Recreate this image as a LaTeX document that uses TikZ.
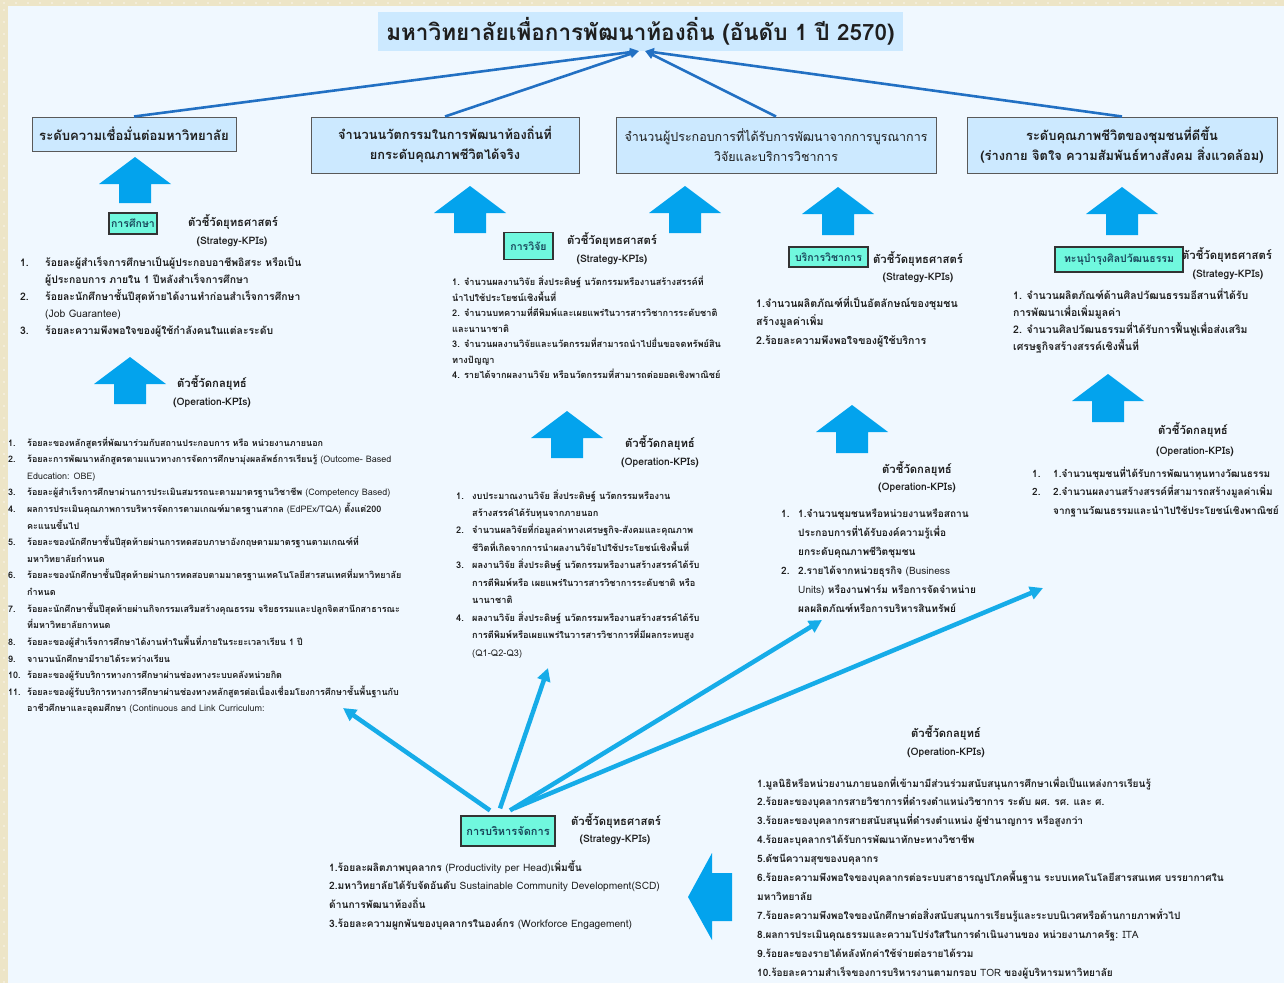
\documentclass[tikz,border=0pt]{standalone}
\usepackage{fontspec}
\setmainfont[Script=Thai]{Loma}
\usetikzlibrary{arrows.meta}
\definecolor{frame}{RGB}{237,229,199}
\definecolor{bgin}{RGB}{240,248,255}
\definecolor{tbfill}{RGB}{204,233,255}
\definecolor{gfill}{RGB}{112,248,222}
\definecolor{gtext}{RGB}{25,70,90}
\definecolor{blk}{RGB}{3,163,237}
\definecolor{dk}{RGB}{34,112,195}
\definecolor{cy}{RGB}{22,172,232}
\definecolor{txt}{RGB}{30,30,30}
\newcommand\fs[1]{\fontsize{#1}{#1}\selectfont}
\newcommand\nb[2]{\makebox[#1pt][l]{#2}}
\newcommand\ind[1]{\hspace*{#1pt}}
\newcommand\lat[1]{{\mdseries #1}}
\newcommand\uparr[3]{\fill[blk] (#1,#2) -- (#1+36,#2+27) -- (#1+16,#2+27) -- (#1+16,#3) -- (#1-16,#3) -- (#1-16,#2+27) -- (#1-36,#2+27) -- cycle;}
\newcommand\klist[6]{\foreach \t [count=\i from 0] in {#6} {\node[ln,font=#5] (#1\i) at (#2,#3+\i*#4) {\t};}}
\tikzset{
 ln/.style={anchor=base west,inner sep=0,text=txt},
 lbl/.style={inner sep=0,font=\bfseries\fs{11.3},text=txt},
 lblsub/.style={inner sep=0,font=\bfseries\fs{10.3},text=txt},
 gbox/.style={draw=black!80,line width=1.2pt,fill=gfill,text=gtext,inner sep=0,font=\bfseries\fs{10.5}},
 tbox/.style={draw=black!65,line width=1pt,fill=tbfill,inner sep=0,align=center,text=txt},
 topc/.style={draw=dk,line width=2.6pt,-{Triangle[length=9pt,width=8pt]}},
 mc/.style={draw=cy,line width=4.5pt,-{Triangle[length=13pt,width=13pt]}}
}
\begin{document}
\begin{tikzpicture}[x=1pt,y=-1pt]
\useasboundingbox (0,0) rectangle (1284,983);
\fill[frame] (0,0) rectangle (1284,983);
\foreach \x in {4,16,...,1284} {\fill[white!70!frame] (\x,3) circle (0.9);}
\foreach \y in {10,22,...,983} {\fill[white!70!frame] (4,\y) circle (0.9);}
\fill[bgin] (8,6) rectangle (1284,983);

% title
\node[tbox,draw=none,minimum width=525pt,minimum height=39pt,font=\bfseries\fs{22.5}] (title) at (640.5,31.5) {มหาวิทยาลัยเพื่อการพัฒนาท้องถิ่น (อันดับ 1 ปี 2570)};
\coordinate (tipL) at (639,51);
\coordinate (tipR) at (645,51);

% top boxes
\node[tbox,minimum width=204pt,minimum height=34pt,font=\bfseries\fs{13.1}] (box1) at (134,134) {ระดับความเชื่อมั่นต่อมหาวิทยาลัย};
\node[tbox,minimum width=268pt,minimum height=56pt,font=\bfseries\fs{12.8},execute at begin node=\setlength{\baselineskip}{20pt}] (box2) at (445,145) {จำนวนนวัตกรรมในการพัฒนาท้องถิ่นที่\\ยกระดับคุณภาพชีวิตได้จริง};
\node[tbox,minimum width=320pt,minimum height=56pt,font=\fs{12.5},execute at begin node=\setlength{\baselineskip}{20pt}] (box3) at (776,145) {จำนวนผู้ประกอบการที่ได้รับการพัฒนาจากการบูรณาการ\\วิจัยและบริการวิชาการ};
\node[tbox,minimum width=310pt,minimum height=56pt,font=\bfseries\fs{12.9},execute at begin node=\setlength{\baselineskip}{20pt}] (box4) at (1122,145) {ระดับคุณภาพชีวิตของชุมชนที่ดีขึ้น\\(ร่างกาย จิตใจ ความสัมพันธ์ทางสังคม สิ่งแวดล้อม)};

\draw[topc] (box1.north) -- (tipL);
\draw[topc] (box2.north) -- (tipL);
\draw[topc] (box3.north) -- (tipR);
\draw[topc] (box4.north) -- (tipR);

% block arrows
\uparr{135}{157}{203}
\uparr{130}{357}{404}
\uparr{470}{186}{233}
\uparr{685}{186}{233}
\uparr{567}{411}{458}
\uparr{838}{187}{235}
\uparr{852}{405}{453}
\uparr{1122}{187}{235}
\uparr{1108}{374}{422}
\fill[blk] (688,897) -- (712,853) -- (712,873) -- (732,873) -- (732,921) -- (712,921) -- (712,940) -- cycle;

% ---------- education
\node[gbox,minimum width=48pt,minimum height=21pt] (g1) at (133,223.5) {การศึกษา};
\node[lbl] (esl) at (233,222) {ตัวชี้วัดยุทธศาสตร์};
\node[lblsub] (ess) at (232,242) {(Strategy-KPIs)};
\klist{es}{20}{266}{17}{\bfseries\fs{10.4}}{
{\nb{25}{1.}ร้อยละผู้สำเร็จการศึกษาเป็นผู้ประกอบอาชีพอิสระ หรือเป็น},
{\ind{25}ผู้ประกอบการ ภายใน 1 ปีหลังสำเร็จการศึกษา},
{\nb{25}{2.}ร้อยละนักศึกษาชั้นปีสุดท้ายได้งานทำก่อนสำเร็จการศึกษา},
{\ind{25}\lat{(Job Guarantee)}},
{\nb{25}{3.}ร้อยละความพึงพอใจของผู้ใช้กำลังคนในแต่ละระดับ}}
\node[lbl] (eol) at (212,383) {ตัวชี้วัดกลยุทธ์};
\node[lblsub] (eos) at (212,403) {(Operation-KPIs)};
\klist{eo}{8}{446}{16.62}{\bfseries\fs{9}}{
{\nb{19}{1.}ร้อยละของหลักสูตรที่พัฒนาร่วมกับสถานประกอบการ หรือ หน่วยงานภายนอก},
{\nb{19}{2.}ร้อยละการพัฒนาหลักสูตรตามแนวทางการจัดการศึกษามุ่งผลลัพธ์การเรียนรู้ \lat{(Outcome- Based}},
{\ind{19}\lat{Education: OBE)}},
{\nb{19}{3.}ร้อยละผู้สำเร็จการศึกษาผ่านการประเมินสมรรถนะตามมาตรฐานวิชาชีพ \lat{(Competency Based)}},
{\nb{19}{4.}ผลการประเมินคุณภาพการบริหารจัดการตามเกณฑ์มาตรฐานสากล \lat{(EdPEx/TQA)} ตั้งแต่200},
{\ind{19}คะแนนขึ้นไป},
{\nb{19}{5.}ร้อยละของนักศึกษาชั้นปีสุดท้ายผ่านการทดสอบภาษาอังกฤษตามมาตรฐานตามเกณฑ์ที่},
{\ind{19}มหาวิทยาลัยกำหนด},
{\nb{19}{6.}ร้อยละของนักศึกษาชั้นปีสุดท้ายผ่านการทดสอบตามมาตรฐานเทคโนโลยีสารสนเทศที่มหาวิทยาลัย},
{\ind{19}กำหนด},
{\nb{19}{7.}ร้อยละนักศึกษาชั้นปีสุดท้ายผ่านกิจกรรมเสริมสร้างคุณธรรม จริยธรรมและปลูกจิตสานึกสาธารณะ},
{\ind{19}ที่มหาวิทยาลัยกาหนด},
{\nb{19}{8.}ร้อยละของผู้สำเร็จการศึกษาได้งานทำในพื้นที่ภายในระยะเวลาเรียน 1 ปี},
{\nb{19}{9.}จานวนนักศึกษามีรายได้ระหว่างเรียน},
{\nb{19}{10.}ร้อยละของผู้รับบริการทางการศึกษาผ่านช่องทางระบบคลังหน่วยกิต},
{\nb{19}{11.}ร้อยละของผู้รับบริการทางการศึกษาผ่านช่องทางหลักสูตรต่อเนื่องเชื่อมโยงการศึกษาชั้นพื้นฐานกับ},
{\ind{19}อาชีวศึกษาและอุดมศึกษา \lat{(Continuous and Link Curriculum:}}}

% ---------- research
\node[gbox,minimum width=49pt,minimum height=27pt] (g2) at (528.5,246) {การวิจัย};
\node[lbl] (rsl) at (612,240) {ตัวชี้วัดยุทธศาสตร์};
\node[lblsub] (rss) at (612,260) {(Strategy-KPIs)};
\klist{rs}{452}{285.5}{15.5}{\bfseries\fs{9.2}}{
{1. จำนวนผลงานวิจัย สิ่งประดิษฐ์ นวัตกรรมหรืองานสร้างสรรค์ที่},
{นำไปใช้ประโยชน์เชิงพื้นที่},
{2. จำนวนบทความที่ตีพิมพ์และเผยแพร่ในวารสารวิชาการระดับชาติ},
{และนานาชาติ},
{3. จำนวนผลงานวิจัยและนวัตกรรมที่สามารถนำไปยื่นขอจดทรัพย์สิน},
{ทางปัญญา},
{4. รายได้จากผลงานวิจัย หรือนวัตกรรมที่สามารถต่อยอดเชิงพาณิชย์}}
\node[lbl] (rol) at (660,443) {ตัวชี้วัดกลยุทธ์};
\node[lblsub] (ros) at (660,463) {(Operation-KPIs)};
\klist{ro}{456}{499}{17.45}{\bfseries\fs{9.2}}{
{\nb{16}{1.}งบประมาณงานวิจัย สิ่งประดิษฐ์ นวัตกรรมหรืองาน},
{\ind{16}สร้างสรรค์ได้รับทุนจากภายนอก},
{\nb{16}{2.}จำนวนผลวิจัยที่ก่อมูลค่าทางเศรษฐกิจ-สังคมและคุณภาพ},
{\ind{16}ชีวิตที่เกิดจากการนำผลงานวิจัยไปใช้ประโยชน์เชิงพื้นที่},
{\nb{16}{3.}ผลงานวิจัย สิ่งประดิษฐ์ นวัตกรรมหรืองานสร้างสรรค์ได้รับ},
{\ind{16}การตีพิมพ์หรือ เผยแพร่ในวารสารวิชาการระดับชาติ หรือ},
{\ind{16}นานาชาติ},
{\nb{16}{4.}ผลงานวิจัย สิ่งประดิษฐ์ นวัตกรรมหรืองานสร้างสรรค์ได้รับ},
{\ind{16}การตีพิมพ์หรือเผยแพร่ในวารสารวิชาการที่มีผลกระทบสูง},
{\ind{16}\lat{(Q1-Q2-Q3)}}}

% ---------- academic service
\node[gbox,minimum width=79pt,minimum height=20pt] (g3) at (828.5,257) {บริการวิชาการ};
\node[lbl] (ssl) at (918,259) {ตัวชี้วัดยุทธศาสตร์};
\node[lblsub] (sss) at (918,278) {(Strategy-KPIs)};
\klist{ss}{756}{307}{18.5}{\bfseries\fs{10.6}}{
{1.จำนวนผลิตภัณฑ์ที่เป็นอัตลักษณ์ของชุมชน},
{สร้างมูลค่าเพิ่ม},
{2.ร้อยละความพึงพอใจของผู้ใช้บริการ}}
\node[lbl] (sol) at (917,469) {ตัวชี้วัดกลยุทธ์};
\node[lblsub] (sos) at (917,488) {(Operation-KPIs)};
\klist{so}{781}{517}{19}{\bfseries\fs{10.1}}{
{\nb{17}{1.}1.จำนวนชุมชนหรือหน่วยงานหรือสถาน},
{\ind{17}ประกอบการที่ได้รับองค์ความรู้เพื่อ},
{\ind{17}ยกระดับคุณภาพชีวิตชุมชน},
{\nb{17}{2.}2.รายได้จากหน่วยธุรกิจ \lat{(Business}},
{\ind{17}\lat{Units)} หรืองานฟาร์ม หรือการจัดจำหน่าย},
{\ind{17}ผลผลิตภัณฑ์หรือการบริหารสินทรัพย์}}

% ---------- culture
\node[gbox,minimum width=128pt,minimum height=25pt] (g4) at (1119,259.5) {ทะนุบำรุงศิลปวัฒนธรรม};
\node[lbl] (csl) at (1227,255) {ตัวชี้วัดยุทธศาสตร์};
\node[lblsub] (css) at (1228,275) {(Strategy-KPIs)};
\klist{cs}{1013}{299}{17.3}{\bfseries\fs{10.5}}{
{1. จำนวนผลิตภัณฑ์ด้านศิลปวัฒนธรรมอีสานที่ได้รับ},
{การพัฒนาเพื่อเพิ่มมูลค่า},
{2. จำนวนศิลปวัฒนธรรมที่ได้รับการฟื้นฟูเพื่อส่งเสริม},
{เศรษฐกิจสร้างสรรค์เชิงพื้นที่}}
\node[lbl] (col) at (1193,430) {ตัวชี้วัดกลยุทธ์};
\node[lblsub] (cos) at (1195,452) {(Operation-KPIs)};
\klist{co}{1032}{477}{18.5}{\bfseries\fs{10}}{
{\nb{21}{1.}1.จำนวนชุมชนที่ได้รับการพัฒนาทุนทางวัฒนธรรม},
{\nb{21}{2.}2.จำนวนผลงานสร้างสรรค์ที่สามารถสร้างมูลค่าเพิ่ม},
{\ind{21}จากฐานวัฒนธรรมและนำไปใช้ประโยชน์เชิงพาณิชย์}}

% ---------- management
\node[gbox,minimum width=94pt,minimum height=30pt,font=\bfseries\fs{11}] (g5) at (508,831) {การบริหารจัดการ};
\node[lbl] (msl) at (616,821) {ตัวชี้วัดยุทธศาสตร์};
\node[lblsub] (mss) at (615,840) {(Strategy-KPIs)};
\klist{ms}{329}{871}{18.7}{\bfseries\fs{10.2}}{
{1.ร้อยละผลิตภาพบุคลากร \lat{(Productivity per Head)}เพิ่มขึ้น},
{2.มหาวิทยาลัยได้รับจัดอันดับ \lat{Sustainable Community Development(SCD)}},
{ด้านการพัฒนาท้องถิ่น},
{3.ร้อยละความผูกพันของบุคลากรในองค์กร \lat{(Workforce Engagement)}}}
\node[lbl] (mol) at (946,733) {ตัวชี้วัดกลยุทธ์};
\node[lblsub] (mos) at (946,753) {(Operation-KPIs)};
\klist{mo}{757}{787}{18.9}{\bfseries\fs{10.1}}{
{1.มูลนิธิหรือหน่วยงานภายนอกที่เข้ามามีส่วนร่วมสนับสนุนการศึกษาเพื่อเป็นแหล่งการเรียนรู้},
{2.ร้อยละของบุคลากรสายวิชาการที่ดำรงตำแหน่งวิชาการ ระดับ ผศ. รศ. และ ศ.},
{3.ร้อยละของบุคลากรสายสนับสนุนที่ดำรงตำแหน่ง ผู้ชำนาญการ หรือสูงกว่า},
{4.ร้อยละบุคลากรได้รับการพัฒนาทักษะทางวิชาชีพ},
{5.ดัชนีความสุขของบคุลากร},
{6.ร้อยละความพึงพอใจของบุคลากรต่อระบบสาธารณูปโภคพื้นฐาน ระบบเทคโนโลยีสารสนเทศ บรรยากาศใน},
{มหาวิทยาลัย},
{7.ร้อยละความพึงพอใจของนักศึกษาต่อสิ่งสนับสนุนการเรียนรู้และระบบนิเวศหรือด้านกายภาพทั่วไป},
{8.ผลการประเมินคุณธรรมและความโปร่งใสในการดำเนินงานของ หน่วยงานภาครัฐ: \lat{ITA}},
{9.ร้อยละของรายได้หลังหักค่าใช้จ่ายต่อรายได้รวม},
{10.ร้อยละความสำเร็จของการบริหารงานตามกรอบ \lat{TOR} ของผู้บริหารมหาวิทยาลัย}}

% management connectors
\coordinate (s1) at ([xshift=-18pt,yshift=5pt]g5.north);
\coordinate (s2) at ([xshift=-8pt,yshift=7pt]g5.north);
\coordinate (s3) at ([xshift=2pt,yshift=5pt]g5.north);
\coordinate (s4) at ([xshift=6pt,yshift=7pt]g5.north);
\coordinate (t1) at (343,708);
\coordinate (t2) at (548,668);
\coordinate (t3) at (822,620);
\coordinate (t4) at (1043,588);
\draw[mc] (s1) -- (t1);
\draw[mc] (s2) -- (t2);
\draw[mc] (s3) -- (t3);
\draw[mc] (s4) -- (t4);
\end{tikzpicture}
\end{document}
